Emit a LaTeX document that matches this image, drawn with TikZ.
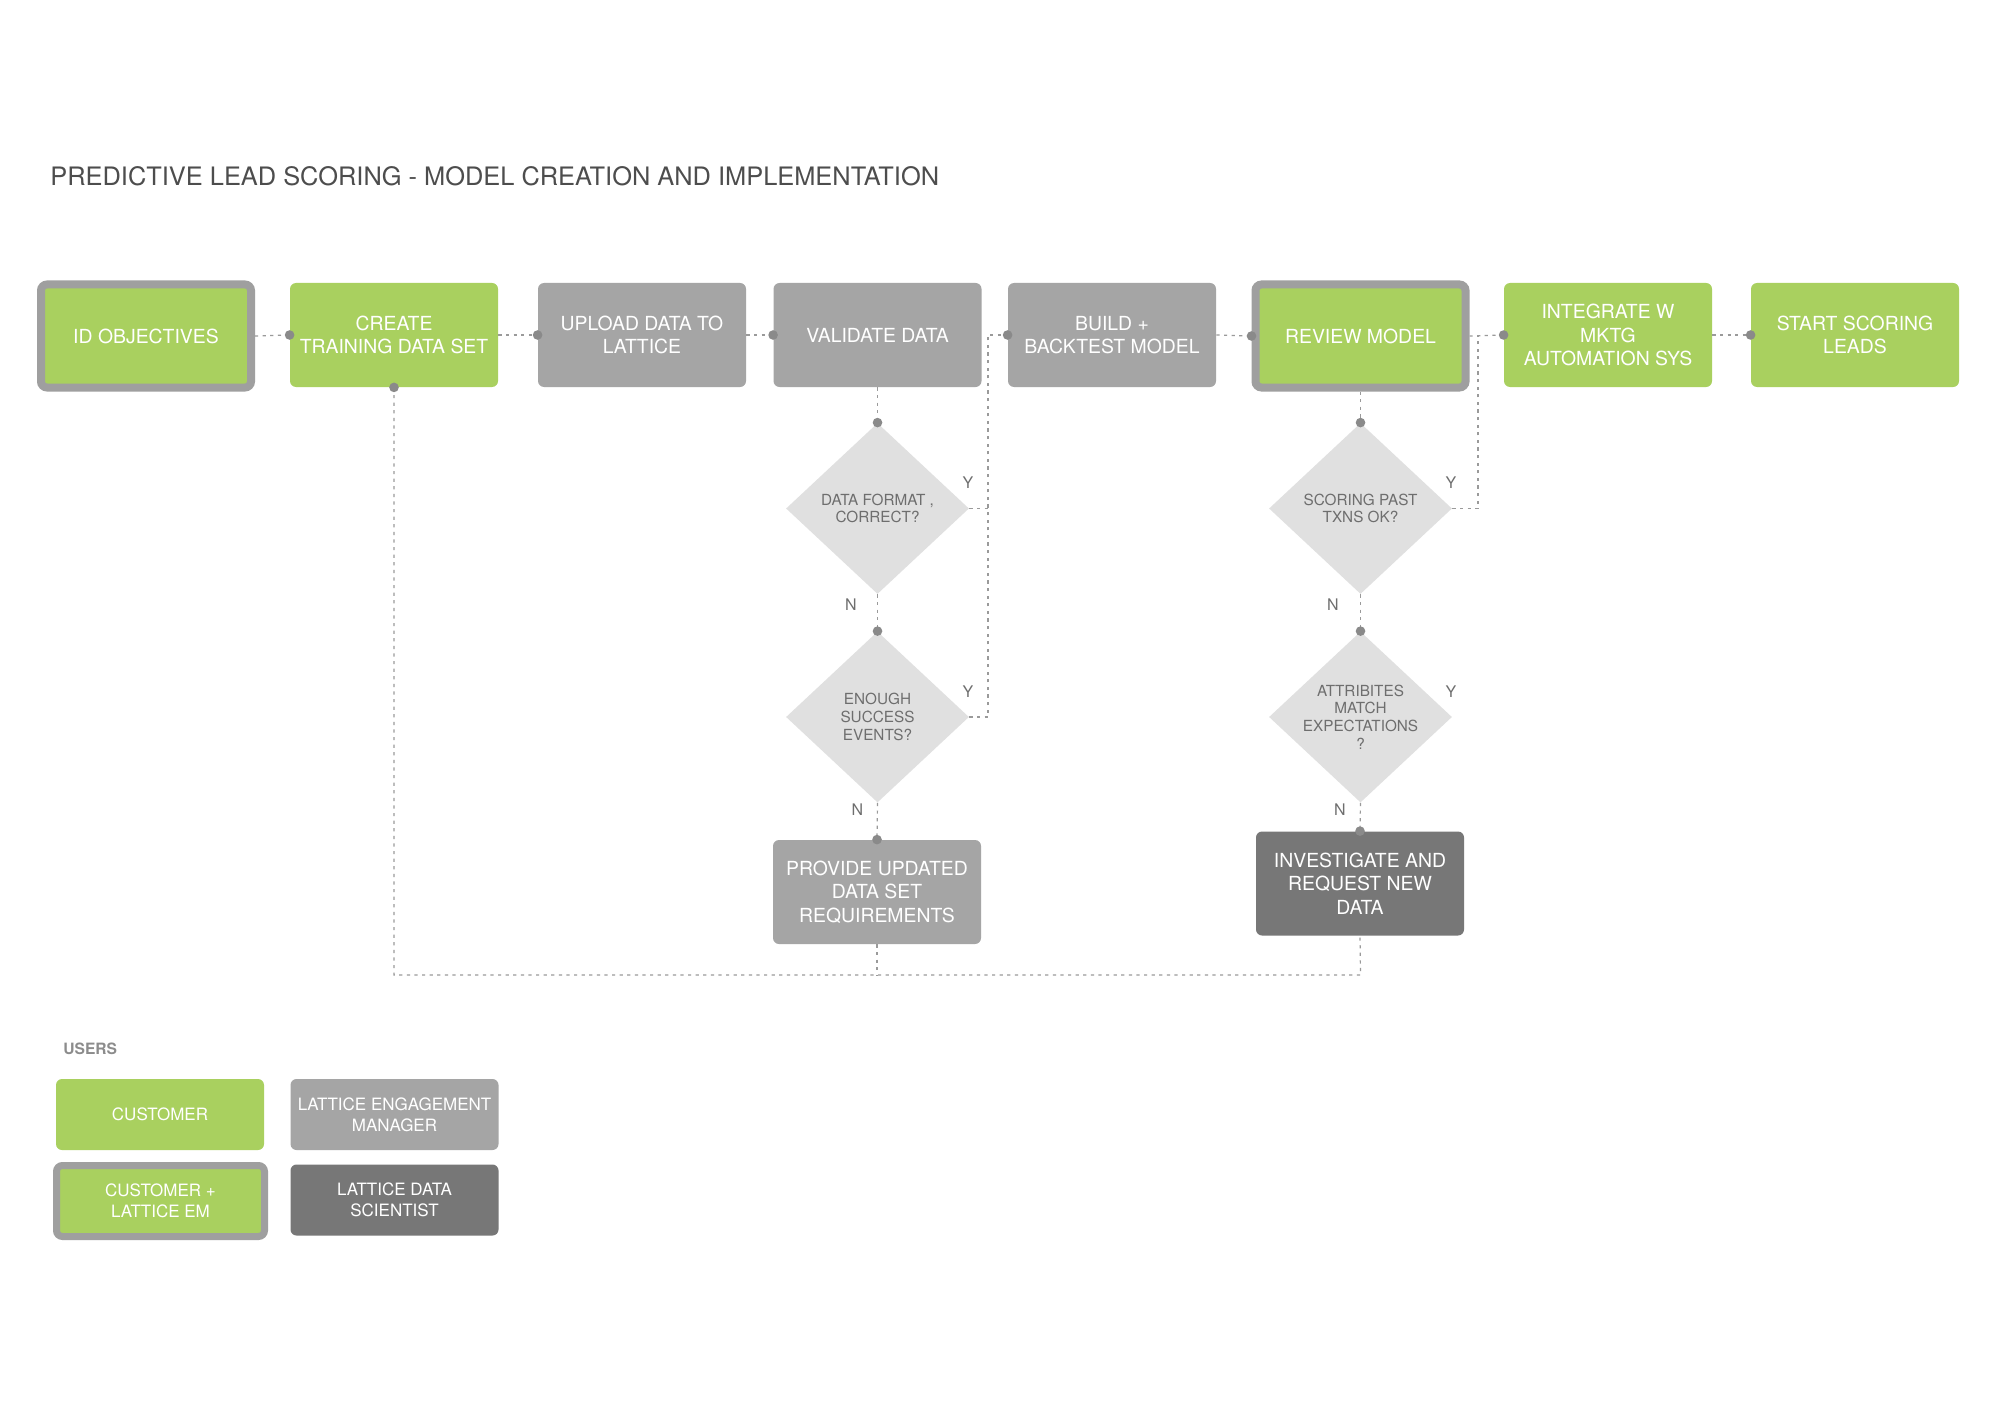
\documentclass[tikz,border=0pt]{standalone}
\usepackage{fontspec}
\setmainfont{TeX Gyre Heros}
\usetikzlibrary{shapes.geometric}
\definecolor{lgreen}{HTML}{A9D05F}
\definecolor{mgray}{HTML}{A5A5A5}
\definecolor{dgray}{HTML}{777777}
\definecolor{bgray}{HTML}{9F9F9F}
\definecolor{dfill}{HTML}{E0E0E0}
\definecolor{dtxt}{HTML}{6E6E6E}
\definecolor{lnc}{HTML}{9A9A9A}
\definecolor{dotc}{HTML}{8A8A8A}
\definecolor{ttl}{HTML}{4D4D4D}
\definecolor{usr}{HTML}{8C8C8C}
\begin{document}
\begin{tikzpicture}[x=0.5pt,y=-0.5pt,
 box/.style={rectangle, rounded corners=3pt, minimum width=104pt, minimum height=52pt, inner sep=1pt, align=center, text=white, font=\fontsize{9.7}{11.8}\selectfont},
 greenbox/.style={box, fill=lgreen},
 graybox/.style={box, fill=mgray},
 darkbox/.style={box, fill=dgray},
 jointbox/.style={box, fill=lgreen, draw=bgray, line width=4pt, minimum width=105pt, minimum height=51.5pt},
 dia/.style={diamond, fill=dfill, minimum width=91.5pt, minimum height=85.5pt, inner sep=0pt},
 dtext/.style={text=dtxt, align=center, inner sep=0pt, font=\fontsize{7.65}{8.8}\selectfont},
 conn/.style={draw=lnc, line width=0.6pt, dash pattern=on 1.6pt off 2.2pt},
 dotm/.style={circle, fill=dotc, minimum size=4.8pt, inner sep=0pt},
 yn/.style={text=dtxt, inner sep=0pt, font=\fontsize{8}{9}\selectfont},
 legbox/.style={box, minimum height=35.5pt, font=\fontsize{8.5}{10.5}\selectfont},
 legjoint/.style={legbox, fill=lgreen, draw=bgray, line width=3.5pt, minimum width=104pt, minimum height=35.5pt},
]
\useasboundingbox[fill=white] (0,0) rectangle (2000,1401);

% title
\node[anchor=west, text=ttl, inner sep=0pt, font=\fontsize{12.7}{14}\selectfont] (title) at (50,176) {PREDICTIVE LEAD SCORING - MODEL CREATION AND IMPLEMENTATION};

% top row
\node[jointbox] (idobj) at (146,336) {ID OBJECTIVES};
\node[greenbox] (create) at (394,335) {CREATE\\TRAINING DATA SET};
\node[graybox] (upload) at (642,335) {UPLOAD DATA TO\\LATTICE};
\node[graybox] (validate) at (877.5,335) {VALIDATE DATA};
\node[graybox] (build) at (1112,335) {BUILD +\\BACKTEST MODEL};
\node[jointbox] (review) at (1360.5,336) {REVIEW MODEL};
\node[greenbox] (integrate) at (1608,335) {INTEGRATE W\\MKTG\\AUTOMATION SYS};
\node[greenbox] (start) at (1855,335) {START SCORING\\LEADS};

% diamonds
\node[dia] (d1) at (877.5,508.5) {};
\node[dtext] (d1t) at (877.5,508.5) {DATA FORMAT ,\\CORRECT?};
\node[dia] (d2) at (877.5,717) {};
\node[dtext] (d2t) at (877.5,717) {ENOUGH\\SUCCESS\\EVENTS?};
\node[dia] (d3) at (1360.5,508.5) {};
\node[dtext] (d3t) at (1360.5,508.5) {SCORING PAST\\TXNS OK?};
\node[dia] (d4) at (1360.5,717) {};
\node[dtext] (d4t) at (1360.5,717) {ATTRIBITES\\MATCH\\EXPECTATIONS\\?};

% lower boxes
\node[graybox] (provide) at (877,892) {PROVIDE UPDATED\\DATA SET\\REQUIREMENTS};
\node[darkbox] (invest) at (1360,883.5) {INVESTIGATE AND\\REQUEST NEW\\DATA};

% junction coordinates
\coordinate (j1) at (988,335);
\coordinate (j2) at (1478,335);
\coordinate (b1) at (394,975);
\coordinate (b3) at (1360.5,975);

% connectors
\draw[conn] (idobj.east) -- (create.west);
\draw[conn] (create.east) -- (upload.west);
\draw[conn] (upload.east) -- (validate.west);
\draw[conn] (validate.south) -- (d1.north);
\draw[conn] (d1.south) -- (d2.north);
\draw[conn] (d2.south) -- (provide.north);
\draw[conn] (d2.east) -| (j1) -- (build.west);
\draw[conn] (d1.east) -- (d1.east -| j1);
\draw[conn] (build.east) -- (review.west);
\draw[conn] (review.east) -- (integrate.west);
\draw[conn] (d3.east) -| (j2);
\draw[conn] (integrate.east) -- (start.west);
\draw[conn] (review.south) -- (d3.north);
\draw[conn] (d3.south) -- (d4.north);
\draw[conn] (d4.south) -- (invest.north);
\draw[conn] (create.south) -- (b1) -- (b3) -- (invest.south);
\draw[conn] (provide.south) -- (provide.south |- b1);

% dots
\node[dotm] (k1) at (create.west) {};
\node[dotm] (k2) at (create.south) {};
\node[dotm] (k3) at (upload.west) {};
\node[dotm] (k4) at (validate.west) {};
\node[dotm] (k5) at (build.west) {};
\node[dotm] (k6) at (review.west) {};
\node[dotm] (k7) at (integrate.west) {};
\node[dotm] (k8) at (start.west) {};
\node[dotm] (k9) at (d1.north) {};
\node[dotm] (k10) at (d2.north) {};
\node[dotm] (k11) at (provide.north) {};
\node[dotm] (k12) at (d3.north) {};
\node[dotm] (k13) at (d4.north) {};
\node[dotm] (k14) at (invest.north) {};

% Y / N labels
\node[yn] (y1) at (968,483) {Y};
\node[yn] (y2) at (968,692) {Y};
\node[yn] (y3) at (1451,483) {Y};
\node[yn] (y4) at (1451,692) {Y};
\node[yn] (n1) at (851,605) {N};
\node[yn] (n2) at (857.5,810) {N};
\node[yn] (n3) at (1333,605) {N};
\node[yn] (n4) at (1340,810) {N};

% legend
\node[anchor=west, text=usr, inner sep=0pt, font=\bfseries\fontsize{7.8}{9}\selectfont] (users) at (63,1049) {USERS};
\node[legbox, fill=lgreen] (leg1) at (160,1114.5) {CUSTOMER};
\node[legbox, fill=mgray] (leg2) at (394.5,1114.5) {LATTICE ENGAGEMENT\\MANAGER};
\node[legjoint] (leg3) at (160.5,1201) {CUSTOMER +\\LATTICE EM};
\node[legbox, fill=dgray] (leg4) at (394.5,1200) {LATTICE DATA\\SCIENTIST};
\end{tikzpicture}
\end{document}
